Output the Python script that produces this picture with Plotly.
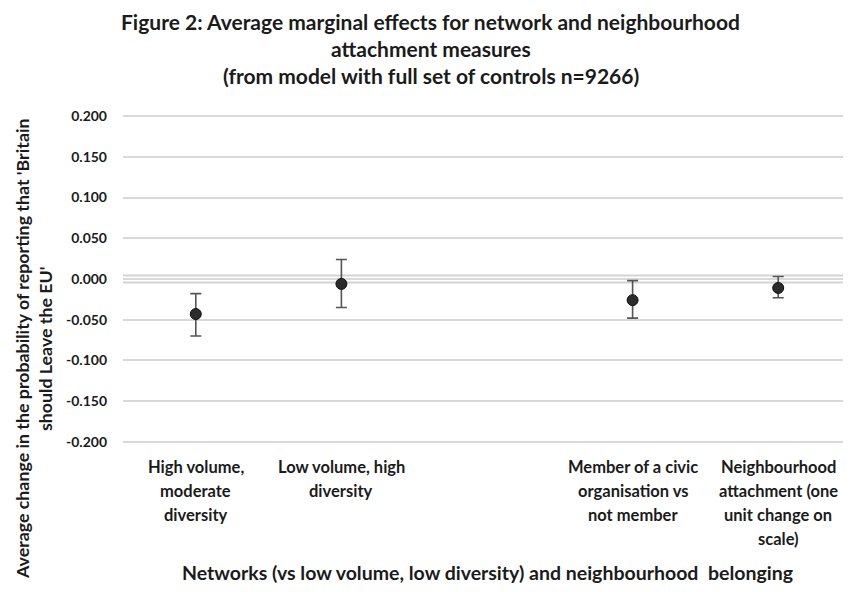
import plotly.graph_objects as go

# ---- data ----
categories = [
    "High volume,\nmoderate\ndiversity",
    "Low volume, high\ndiversity",
    "",
    "Member of a civic\norganisation vs\nnot member",
    "Neighbourhood\nattachment (one\nunit change on\nscale)",
]
effects = [-0.043, -0.006, None, -0.026, -0.011]
upper_ci = [-0.018, 0.024, None, -0.002, 0.003]
lower_ci = [-0.070, -0.035, None, -0.048, -0.023]
y_ticks = [-0.2, -0.15, -0.1, -0.05, 0.0, 0.05, 0.1, 0.15, 0.2]
title_lines = [
    "Figure 2: Average marginal effects for network and neighbourhood",
    "attachment measures",
    "(from model with full set of controls n=9266)",
]
y_title_lines = [
    "Average change in the probability of reporting that 'Britain",
    "should Leave the EU'",
]
x_title = "Networks (vs low volume, low diversity) and neighbourhood\u00a0 belonging"

FONT = "Lato"
TXT = "#1b1b1b"

xs = [i for i, e in enumerate(effects) if e is not None]
ys = [effects[i] for i in xs]
err_plus = [upper_ci[i] - effects[i] for i in xs]
err_minus = [effects[i] - lower_ci[i] for i in xs]

fig = go.Figure()
fig.add_trace(go.Scatter(
    x=xs, y=ys, mode="markers",
    marker=dict(size=11, color="#2b2b2b", line=dict(color="#111111", width=1)),
    error_y=dict(type="data", symmetric=False, array=err_plus, arrayminus=err_minus,
                 color="#555555", thickness=1.6, width=5.5),
    showlegend=False,
))

# zero reference double line
for yv in (0.0043, -0.0043):
    fig.add_shape(type="line", xref="paper", x0=0, x1=1, yref="y", y0=yv, y1=yv,
                  line=dict(color="#d4d4d4", width=2.2), layer="below")

annotations = []
# category labels
for i, lab in enumerate(categories):
    for j, line in enumerate(lab.split("\n")):
        if not line:
            continue
        annotations.append(dict(xref="x", x=i, yref="paper", y=0, yanchor="middle",
                                yshift=-21 - 24 * j, text=line, showarrow=False,
                                font=dict(family=FONT, size=16.5, color=TXT, weight="bold")))
# title
for line, ys_ in zip(title_lines, [91, 64, 37]):
    annotations.append(dict(xref="paper", x=0.423, yref="paper", y=1, yanchor="middle",
                            yshift=ys_, text=line, showarrow=False,
                            font=dict(family=FONT, size=21, color=TXT, weight="bold")))
# y title
for line, xp in zip(y_title_lines, [-0.1387, -0.107]):
    annotations.append(dict(xref="paper", x=xp, yref="paper", y=0, xanchor="center",
                            yanchor="middle", yshift=97, textangle=-90, text=line,
                            showarrow=False,
                            font=dict(family=FONT, size=17.8, color=TXT, weight="bold")))
# x title
annotations.append(dict(xref="paper", x=0.5, yref="paper", y=0, yanchor="middle",
                        yshift=-126, text=x_title, showarrow=False,
                        font=dict(family=FONT, size=19.5, color=TXT, weight="bold")))

fig.update_layout(
    width=843, height=584,
    margin=dict(l=115, r=0, t=104, b=146, pad=0),
    paper_bgcolor="white", plot_bgcolor="white",
    annotations=annotations,
    font=dict(family=FONT, color=TXT),
)
fig.update_xaxes(range=[-0.5, 4.5], showgrid=False, zeroline=False, showticklabels=False,
                 showline=False)
fig.update_yaxes(range=[-0.205, 0.205], tickvals=y_ticks,
                 ticktext=[f"{v:.3f}" for v in y_ticks],
                 showgrid=True, gridcolor="#d9d9d9", gridwidth=1.5, zeroline=False,
                 showline=False, ticks="", ticklabelstandoff=15,
                 tickfont=dict(family=FONT, size=14, color=TXT, weight="bold"))

fig.write_html("out.html")
